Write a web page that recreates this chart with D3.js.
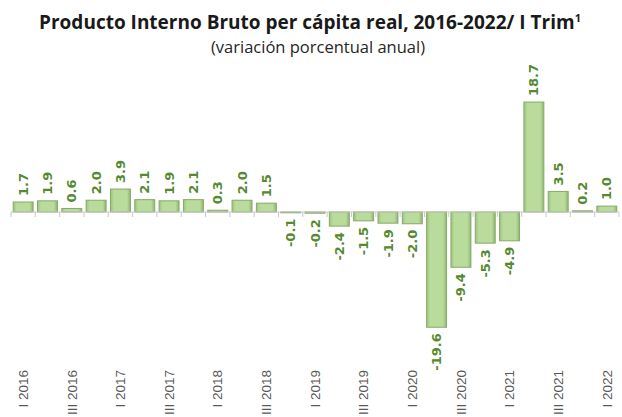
<html>
<head>
    <meta charset="utf-8">
    <title>PIB per cápita real</title>
    <script src="https://d3js.org/d3.v7.min.js"></script>
    <style>
        body { margin: 0; background: #fff; }
        svg { font-family: "Open Sans", sans-serif; }
        .title { font-size: 19px; font-weight: bold; fill: #1a1a1a; }
        .subtitle { font-size: 16.5px; fill: #262626; }
        .val { font-size: 13px; font-weight: bold; fill: #558a30; font-family: "DejaVu Sans", sans-serif; }
        .xlab { font-size: 13.5px; fill: #595959; font-family: "Liberation Sans", Arial, sans-serif; }
        .axis line, .axis path { stroke: #c8c8c8; }
    </style>
</head>
<body>
<div id="chart"></div>
<script>
    // trimestres y variación anual (%)
    var quarters = ["I 2016", "II 2016", "III 2016", "IV 2016",
                    "I 2017", "II 2017", "III 2017", "IV 2017",
                    "I 2018", "II 2018", "III 2018", "IV 2018",
                    "I 2019", "II 2019", "III 2019", "IV 2019",
                    "I 2020", "II 2020", "III 2020", "IV 2020",
                    "I 2021", "II 2021", "III 2021", "IV 2021",
                    "I 2022"];
    var values = [1.7, 1.9, 0.6, 2.0, 3.9, 2.1, 1.9, 2.1, 0.3, 2.0, 1.5, -0.1,
                  -0.2, -2.4, -1.5, -1.9, -2.0, -19.6, -9.4, -5.3, -4.9, 18.7,
                  3.5, 0.2, 1.0];
    // solo se rotulan los trimestres I y III
    var shownLabels = quarters.filter(function(q, i) { return i % 2 === 0; });
    var titleText = "Producto Interno Bruto per cápita real, 2016-2022/ I Trim";
    var subtitleText = "(variación porcentual anual)";

    var width = 622, height = 417;

    var svg = d3.select("#chart").append("svg")
        .attr("width", width)
        .attr("height", height);

    var defs = svg.append("defs");
    var grad = defs.append("linearGradient")
        .attr("id", "barGrad")
        .attr("x1", "0").attr("x2", "1").attr("y1", "0").attr("y2", "0");
    grad.append("stop").attr("offset", "0%").attr("stop-color", "#9cc47c");
    grad.append("stop").attr("offset", "18%").attr("stop-color", "#b9dc9c");
    grad.append("stop").attr("offset", "82%").attr("stop-color", "#b9dc9c");
    grad.append("stop").attr("offset", "100%").attr("stop-color", "#8fb66f");

    var x = d3.scaleBand()
        .domain(quarters)
        .range([11, 619])
        .paddingInner(0.18)
        .paddingOuter(0.09);

    var y = d3.scaleLinear()
        .domain([-20, 20])
        .range([329.6, 94.4]);

    /* títulos */
    var title = svg.append("text")
        .attr("class", "title")
        .attr("x", 310)
        .attr("y", 29)
        .attr("text-anchor", "middle");
    title.append("tspan").text(titleText);
    title.append("tspan").attr("font-size", "11px").attr("dy", "-7").text("1");

    svg.append("text")
        .attr("class", "subtitle")
        .attr("x", 318)
        .attr("y", 53)
        .attr("text-anchor", "middle")
        .text(subtitleText);

    /* barras */
    svg.append("g").selectAll("rect")
        .data(values)
        .enter().append("rect")
        .attr("x", function(d, i) { return x(quarters[i]); })
        .attr("width", x.bandwidth())
        .attr("y", function(d) { return y(Math.max(0, d)); })
        .attr("height", function(d) { return Math.max(0.8, Math.abs(y(d) - y(0))); })
        .attr("fill", "url(#barGrad)")
        .attr("stroke", "#86a96a")
        .attr("stroke-width", 1);

    /* eje horizontal */
    var axis = svg.append("g").attr("class", "axis");
    axis.append("line")
        .attr("x1", 11).attr("x2", 619)
        .attr("y1", y(0)).attr("y2", y(0));
    var step = x.step();
    var tickX = function(i) { return x(quarters[0]) - x.paddingInner() * step / 2 + i * step; };
    axis.selectAll(".tick")
        .data(d3.range(quarters.length + 1))
        .enter().append("line")
        .attr("class", "tick")
        .attr("x1", tickX)
        .attr("x2", tickX)
        .attr("y1", y(0))
        .attr("y2", y(0) + 5);

    /* etiquetas de valor */
    svg.append("g").selectAll("text")
        .data(values)
        .enter().append("text")
        .attr("class", "val")
        .attr("transform", function(d, i) {
            var cx = x(quarters[i]) + x.bandwidth() / 2;
            var cy = d >= 0 ? y(d) - 6 : y(d) + 6;
            return "translate(" + cx + "," + cy + ") rotate(-90)";
        })
        .attr("dy", "0.35em")
        .attr("text-anchor", function(d) { return d >= 0 ? "start" : "end"; })
        .text(function(d) { return d.toFixed(1); });

    /* etiquetas de trimestre */
    svg.append("g").selectAll("text")
        .data(shownLabels)
        .enter().append("text")
        .attr("class", "xlab")
        .attr("transform", function(d) {
            var cx = x(d) + x.bandwidth() / 2;
            return "translate(" + cx + ",370) rotate(-90)";
        })
        .attr("dy", "0.35em")
        .attr("text-anchor", "end")
        .text(function(d) { return d; });
</script>
</body>
</html>
